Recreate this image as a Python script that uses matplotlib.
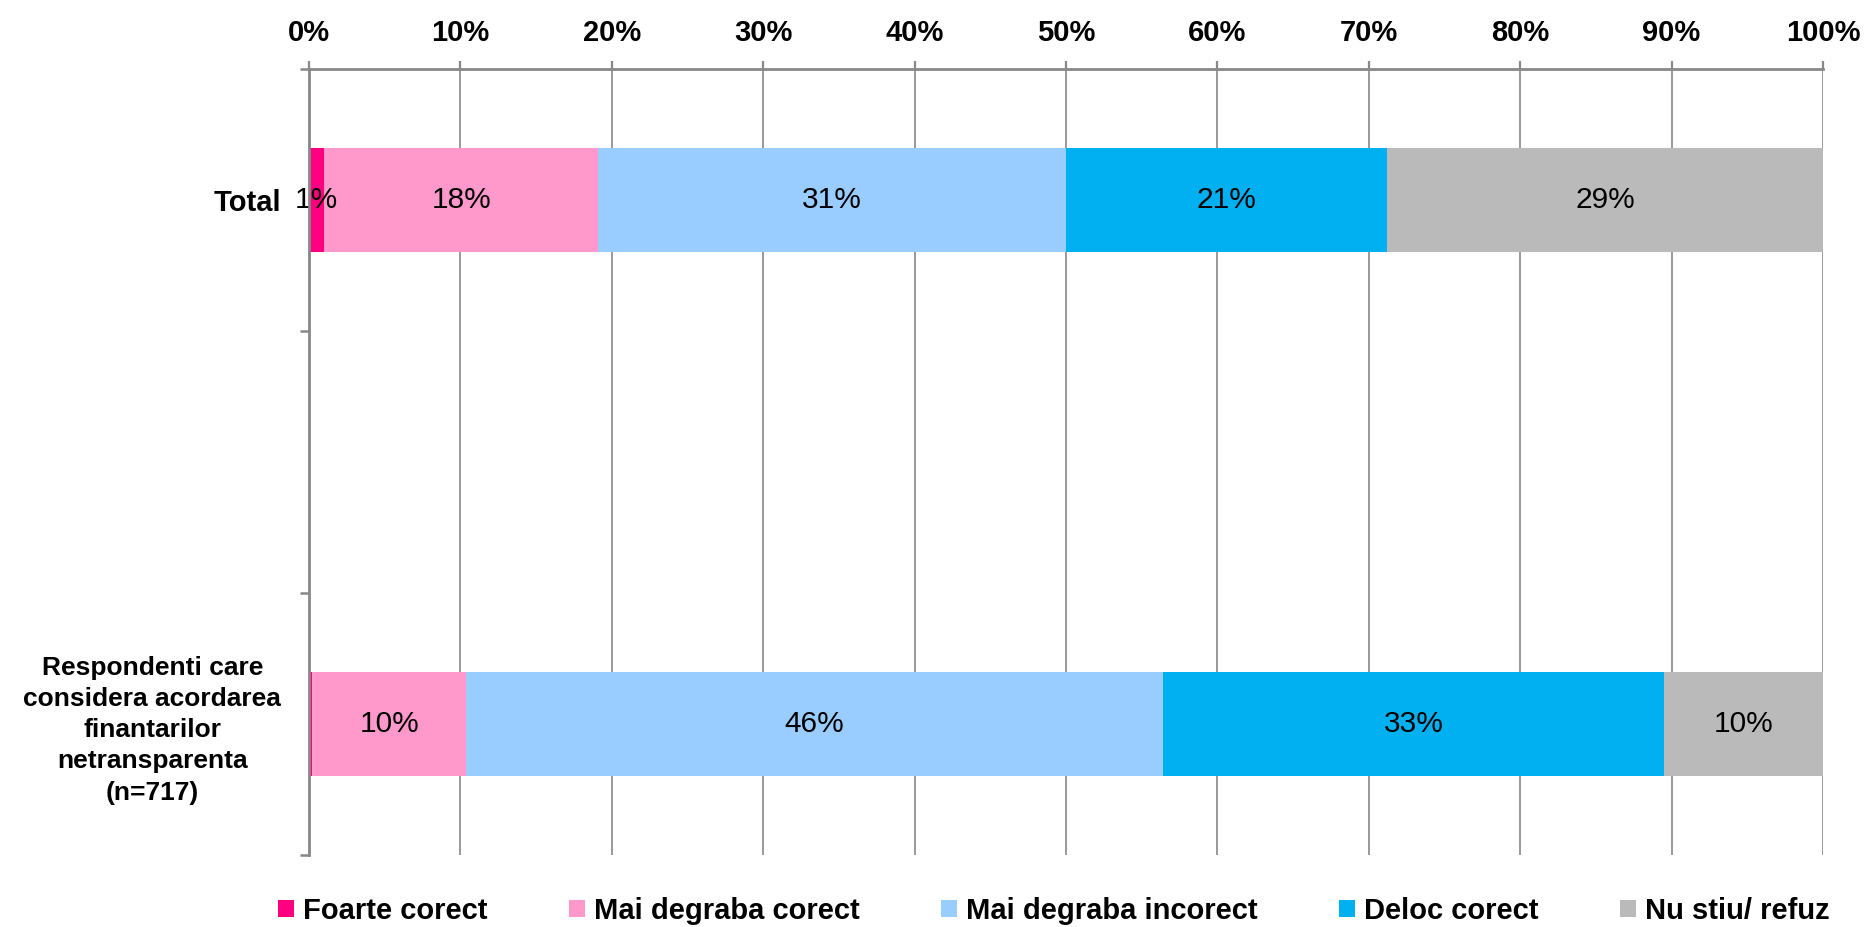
import matplotlib
matplotlib.use("Agg")
import matplotlib.pyplot as plt
import numpy as np

plt.rcParams['font.family'] = ['Liberation Sans', 'DejaVu Sans']

# categories (the middle slot is empty in the original chart)
categories = ['Total', '',
              'Respondenti care\nconsidera acordarea\nfinantarilor\nnetransparenta\n(n=717)']
series = ['Foarte corect', 'Mai degraba corect', 'Mai degraba incorect',
          'Deloc corect', 'Nu stiu/ refuz']
colors = ['#FF0080', '#FF99CC', '#99CCFF', '#00B0F0', '#BABABA']

# percentages per series: [Total, (empty), Respondenti]
foarte_corect = [1.0, 0.0, 0.2]
mai_degraba_corect = [18.1, 0.0, 10.2]
mai_degraba_incorect = [30.9, 0.0, 46.0]
deloc_corect = [21.2, 0.0, 33.1]
nu_stiu = [28.8, 0.0, 10.5]

# labels shown on the bars
total_labels = ['1%', '18%', '31%', '21%', '29%']
resp_labels = ['', '10%', '46%', '33%', '10%']

values = [foarte_corect, mai_degraba_corect, mai_degraba_incorect, deloc_corect, nu_stiu]
bar_labels = {0: total_labels, 2: resp_labels}

fig = plt.figure(figsize=(18.65, 9.27), dpi=100)
ax = fig.add_axes([309 / 1865, 1 - 855 / 927, (1823 - 309) / 1865, (855 - 69) / 927])

y = np.arange(len(categories))
left = np.zeros(len(categories))
for i, (name, vals, col) in enumerate(zip(series, values, colors)):
    vals = np.array(vals)
    ax.barh(y, vals, left=left, height=0.4, color=col, label=name, zorder=3)
    for row, labs in bar_labels.items():
        if labs[i]:
            ax.text(left[row] + vals[row] / 2, row, labs[i], ha='center', va='center',
                    fontsize=21.5, color='black', zorder=4)
    left += vals

ax.set_xlim(0, 100)
ax.set_ylim(2.5, -0.5)

# x axis on top
ax.xaxis.tick_top()
ax.set_xticks(np.arange(0, 101, 10))
ax.set_xticklabels([f'{v}%' for v in range(0, 101, 10)], fontsize=21, fontweight='bold')
ax.tick_params(axis='x', which='major', length=6, width=1.6, color='#888888', pad=10)
ax.grid(axis='x', color='#888888', linewidth=1.2, zorder=0)

# y ticks at slot boundaries, labels at slot centres
ax.set_yticks([-0.5, 0.5, 1.5, 2.5])
ax.set_yticklabels([])
ax.tick_params(axis='y', which='major', length=6.5, width=1.8, color='#888888')
ax.set_yticks([0, 2], minor=True)
ax.set_yticklabels([categories[0], categories[2]], minor=True, fontsize=21, fontweight='bold')
ax.tick_params(axis='y', which='minor', length=0, pad=20)
ylabs = ax.get_yticklabels(minor=True)
ylabs[1].set_fontsize(19)
for lab in ylabs:
    lab.set_multialignment('center')
    lab.set_linespacing(1.38)

for s in ['right', 'bottom']:
    ax.spines[s].set_visible(False)
for s in ['top', 'left']:
    ax.spines[s].set_color('#888888')
    ax.spines[s].set_linewidth(2.0)
    ax.spines[s].set_zorder(5)

fig.legend(loc='center', bbox_to_anchor=(1054 / 1865, 16 / 927), ncol=5, frameon=False,
           prop={'size': 21, 'weight': 'bold'}, handlelength=0.55, handleheight=0.55,
           handletextpad=0.3, columnspacing=2.8, borderaxespad=0, borderpad=0)

fig.savefig('out.png', dpi=100)
